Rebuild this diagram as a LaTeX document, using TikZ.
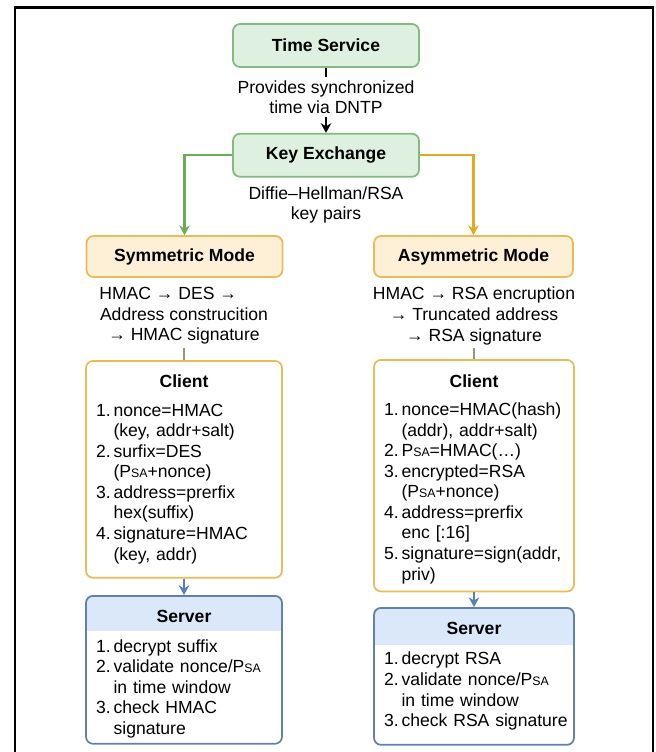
\documentclass[tikz,border=0pt]{standalone}
\usepackage{fontspec}
\setmainfont{Liberation Sans}
\usetikzlibrary{arrows.meta, positioning, backgrounds}

\definecolor{grnfill}{RGB}{222,240,224}
\definecolor{grnline}{RGB}{130,186,128}
\definecolor{grnarr}{RGB}{108,172,82}
\definecolor{orgfill}{RGB}{253,240,215}
\definecolor{orgline}{RGB}{234,188,88}
\definecolor{orgarr}{RGB}{226,170,32}
\definecolor{srvline}{RGB}{98,128,172}
\definecolor{srvhead}{RGB}{219,232,249}
\definecolor{blarr}{RGB}{86,126,186}
\definecolor{stemgray}{RGB}{160,150,115}

\newcommand{\diagfont}{\fontsize{10}{11.7}\selectfont}
\newcommand{\psa}{P{\fontsize{7}{7}\selectfont SA}}
\newcommand{\itm}[2]{\mbox{\makebox[10pt][l]{#1}#2}}
\newcommand{\cnt}[1]{\mbox{\hspace*{10pt}#1}}
\newcommand{\ttl}[2]{\makebox[\hsize]{\rule{0pt}{#1}\textbf{#2}}}

\begin{document}
\begin{tikzpicture}[x=0.02cm, y=-0.02cm,
  greenbox/.style={rectangle, rounded corners=4pt, draw=grnline, line width=1pt,
                   fill=grnfill, minimum width=3.72cm, minimum height=0.86cm,
                   font=\diagfont\bfseries},
  modebox/.style={rectangle, rounded corners=4pt, draw=orgline, line width=1pt,
                  fill=orgfill, minimum width=3.92cm, minimum height=0.82cm,
                  font=\diagfont\bfseries},
  note/.style={align=center, inner sep=1.5pt, font=\diagfont},
  clientbox/.style={rectangle, rounded corners=4pt, draw=orgline, line width=1pt,
                    text width=3.52cm, inner xsep=0.2cm, align=left,
                    anchor=north, font=\diagfont},
  serverbox/.style={rectangle, rounded corners=4pt, draw=srvline, line width=1pt,
                    text width=3.52cm, inner xsep=0.2cm, align=left,
                    anchor=north, font=\diagfont},
  arr/.style={-{Stealth[length=5.5pt, width=6pt]}, line width=0.9pt},
  grnarrow/.style={arr, draw=grnarr, line width=1.2pt},
  orgarrow/.style={arr, draw=orgarr, line width=1.3pt},
  bluearrow/.style={arr, draw=blarr, line width=1.1pt},
  stem/.style={draw=stemgray, line width=1pt},
]
\useasboundingbox (0,0) rectangle (656,752);
\draw[line width=1.7pt] (15,752) |- (653,7) -- (653,752);

%% TOP
\node[greenbox] (tsvc) at (326,45.5) {Time Service};
\node[greenbox, below=1.3cm of tsvc] (kex) {Key Exchange};
\node[note] (dntp) at (326,97) {Provides synchronized\\time via DNTP};
\node[note] (dhrsa) at (326,205) {Diffie–Hellman/RSA\\key pairs};

%% MODES
\node[modebox] (sym) at (184.5,256.5) {Symmetric Mode};
\node[modebox, minimum width=3.98cm] (asym) at (473.5,256.5) {Asymmetric Mode};
\node[note] (descL) at (184,316) {HMAC → DES →\hspace*{18pt}\\Address construcition\\→ HMAC signature};
\node[note] (descR) at (474,316) {HMAC → RSA encruption\\→ Truncated address\\→ RSA signature};

%% CLIENTS
\node[clientbox, inner ysep=8pt] (clL) at (184,360) {\ttl{0pt}{Client}\\[4.5pt]
  \itm{1.}{nonce=HMAC}\\
  \cnt{(key, addr+salt)}\\
  \itm{2.}{surfix=DES}\\
  \cnt{(\psa+nonce)}\\
  \itm{3.}{address=prerfix}\\
  \cnt{hex(suffix)}\\
  \itm{4.}{signature=HMAC}\\
  \cnt{(key, addr)}};
\node[clientbox, text width=3.6cm, inner ysep=4.4pt] (clR) at (474,359) {\ttl{11.1pt}{Client}\\[4.5pt]
  \itm{1.}{nonce=HMAC(hash)}\\
  \cnt{(addr), addr+salt)}\\
  \itm{2.}{\psa=HMAC(\ldots)}\\
  \itm{3.}{encrypted=RSA}\\
  \cnt{(\psa+nonce)}\\
  \itm{4.}{address=prerfix}\\
  \cnt{enc [:16]}\\
  \itm{5.}{signature=sign(addr,}\\
  \cnt{priv)}};

%% SERVERS
\node[serverbox, inner ysep=3.2pt] (srvL) at (184,595) {\ttl{11.7pt}{Server}\\[5.5pt]
  \itm{1.}{decrypt suffix}\\
  \itm{2.}{validate nonce/\psa}\\
  \cnt{in time window}\\
  \itm{3.}{check HMAC}\\
  \cnt{signature}};
\node[serverbox, text width=3.6cm, inner ysep=8.3pt] (srvR) at (474,607) {\ttl{0pt}{Server}\\[5.5pt]
  \itm{1.}{decrypt RSA}\\
  \itm{2.}{validate nonce/\psa}\\
  \cnt{in time window}\\
  \itm{3.}{check RSA signature}};

%% ARROWS
\draw[line width=0.9pt] (tsvc) -- (dntp);
\draw[arr] (dntp) -- (kex);
\draw[grnarrow] (kex.west) -| (sym.north);
\draw[orgarrow] (kex.east) -| (asym.north);
\draw[stem] (descL) -- (clL);
\draw[stem] (descR) -- (clR);
\draw[bluearrow] (clL) -- (srvL);
\draw[bluearrow] (clR) -- (srvR);

%% SERVER HEADERS
\begin{pgfonlayer}{background}
  \begin{scope}
    \clip ([yshift=-0.70cm]srvL.north west) rectangle (srvL.north east);
    \fill[srvhead, rounded corners=4pt] (srvL.south west) rectangle (srvL.north east);
  \end{scope}
  \begin{scope}
    \clip ([yshift=-0.74cm]srvR.north west) rectangle (srvR.north east);
    \fill[srvhead, rounded corners=4pt] (srvR.south west) rectangle (srvR.north east);
  \end{scope}
\end{pgfonlayer}
\end{tikzpicture}
\end{document}
